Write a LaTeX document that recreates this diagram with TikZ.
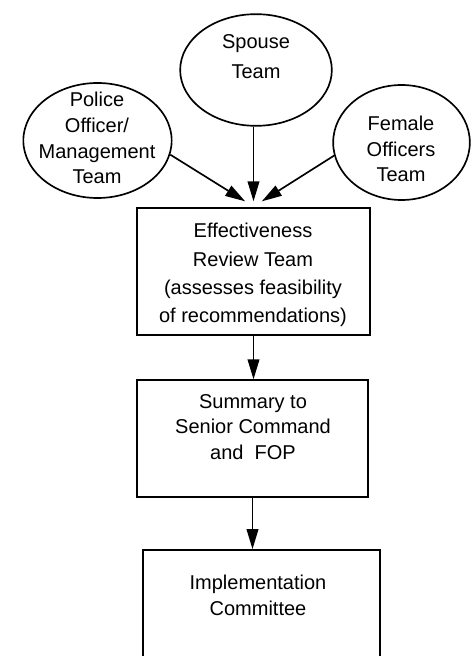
\documentclass[tikz,border=0pt]{standalone}
\usepackage{fontspec}
\setmainfont{Liberation Sans}
\usetikzlibrary{arrows.meta, shapes.geometric}
\tikzset{
	tri/.tip={Triangle[length=12pt,width=7pt]},
	team/.style={draw, ellipse, line width=1pt, inner sep=0pt},
	box/.style={draw, rectangle, line width=1pt, inner sep=0pt},
	lbl/.style={align=center, inner sep=0pt, font=\fontsize{12}{15.5}\selectfont},
	arr/.style={-tri, line width=1pt},
}

\begin{document}
\begin{tikzpicture}[x=0.6pt, y=-0.6pt]
	\clip (0,0) rectangle (471,656);
	
	% Teams
	\node[team, minimum width=91pt, minimum height=67pt] (spouse) at (256,70) {};
	\node[team, minimum width=89pt, minimum height=69pt] (police) at (97.5,140.5) {};
	\node[team, minimum width=82pt, minimum height=69pt] (female) at (401.5,142.5) {};
	\node[lbl, font=\fontsize{12}{18}\selectfont] (spousetxt) at (256,57) {Spouse\\Team};
	\node[lbl] (policetxt) at (97,138) {Police\\Officer/\\Management\\Team};
	\node[lbl] (femaletxt) at (401,149) {Female\\Officers\\Team};
	
	% Boxes
	\node[box, minimum width=140pt, minimum height=76pt] (eff) at (253.5,271.5) {};
	\node[box, minimum width=138.6pt, minimum height=70pt] (sum) at (252.5,438.5) {};
	\node[box, minimum width=142pt, minimum height=96pt] (impl) at (261.5,630) {};
	\node[lbl, font=\fontsize{12}{17}\selectfont] (efftxt) at (253,275)
		{Effectiveness\\Review Team\\(assesses feasibility\\of recommendations)};
	\node[lbl] (sumtxt) at (253,427) {Summary to\\Senior Command\\and\ \ FOP};
	\node[lbl] (impltxt) at (258,595) {Implementation\\Committee};
	
	% Arrows
	\draw[arr] (eff.north |- spouse.south) -- ([yshift=3.6pt]eff.north);
	\draw[arr] (police.-11) -- ([xshift=-5pt,yshift=3.6pt]eff.north);
	\draw[arr] (female.191) -- ([xshift=5pt,yshift=3.6pt]eff.north);
	\draw[arr] (eff.south) -- (eff.south |- sum.north);
	\draw[arr] (sum.south) -- (sum.south |- impl.north);
\end{tikzpicture}
\end{document}
